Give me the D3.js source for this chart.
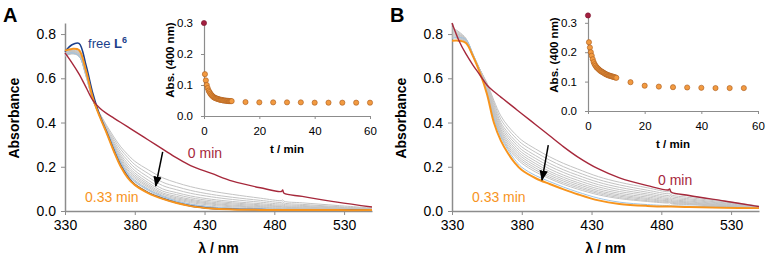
<!DOCTYPE html>
<html>
<head>
<meta charset="utf-8">
<script src="https://cdn.jsdelivr.net/npm/d3@7"></script>
<style>
  body { margin: 0; background: #fff; }
  svg { font-family: "Liberation Sans", Arial, sans-serif; }
</style>
</head>
<body>
<div id="chart"></div>
<script>
// wavelength grid (nm) shared by all spectra
const wl = [330,335,340,345,350,355,360,365,370,375,380,390,400,410,420,435,450,470,485,486,487,500,525,550];
const xTicks = [330,380,430,480,530];
const yTicks = [0,0.2,0.4,0.6,0.8];
const insetXTicks = [0,20,40,60];
const insetYTicks = [0,0.1,0.2,0.3];

// panel A spectra
const redA    = [0.715,0.67,0.62,0.56,0.50,0.465,0.44,0.42,0.40,0.38,0.36,0.32,0.28,0.24,0.205,0.17,0.135,0.105,0.088,0.095,0.08,0.066,0.04,0.018];
const orangeA = [0.725,0.733,0.728,0.635,0.51,0.425,0.35,0.27,0.20,0.15,0.118,0.08,0.055,0.036,0.022,0.011,0.007,0.005,0.005,0.005,0.005,0.005,0.004,0.004];
const blueA   = [0.72,0.752,0.758,0.66,0.53,0.43,0.355,0.275,0.205,0.155,0.12,0.082,0.056,0.037,0.023,0.012,0.008,0.006,0.005,0.005,0.005,0.005,0.004,0.004];
const lightA  = [0.705,0.715,0.70,0.62,0.50,0.43,0.36,0.29,0.22,0.17,0.135,0.095,0.066,0.045,0.03,0.018,0.012,0.009,0.008,0.008,0.008,0.007,0.006,0.005];
const greysA = [
  [0.70,0.71,0.70,0.61,0.50,0.44,0.385,0.335,0.29,0.255,0.225,0.185,0.15,0.128,0.11,0.09,0.075,0.058,0.047,0.05,0.044,0.037,0.025,0.013],
  [0.70,0.712,0.70,0.612,0.50,0.438,0.378,0.325,0.278,0.242,0.21,0.168,0.13,0.11,0.093,0.075,0.062,0.048,0.039,0.041,0.036,0.03,0.02,0.011],
  [0.702,0.714,0.702,0.615,0.50,0.435,0.372,0.315,0.265,0.228,0.196,0.152,0.115,0.096,0.08,0.064,0.052,0.04,0.032,0.034,0.03,0.025,0.017,0.009],
  [0.704,0.716,0.704,0.618,0.501,0.432,0.366,0.306,0.254,0.215,0.183,0.138,0.10,0.083,0.068,0.053,0.043,0.033,0.027,0.029,0.025,0.021,0.014,0.008],
  [0.706,0.718,0.706,0.62,0.502,0.43,0.362,0.299,0.245,0.204,0.172,0.127,0.09,0.074,0.06,0.046,0.037,0.028,0.023,0.025,0.021,0.018,0.012,0.007],
  [0.708,0.72,0.708,0.622,0.503,0.429,0.359,0.293,0.237,0.195,0.163,0.119,0.082,0.066,0.053,0.04,0.032,0.024,0.02,0.021,0.018,0.015,0.01,0.006],
  [0.71,0.722,0.71,0.624,0.504,0.428,0.357,0.288,0.23,0.187,0.155,0.112,0.076,0.06,0.048,0.035,0.027,0.02,0.017,0.018,0.015,0.013,0.009,0.005],
  [0.712,0.724,0.712,0.626,0.505,0.427,0.355,0.284,0.224,0.18,0.148,0.106,0.07,0.055,0.043,0.031,0.023,0.017,0.014,0.015,0.013,0.011,0.008,0.005],
  [0.714,0.726,0.716,0.628,0.506,0.426,0.353,0.28,0.218,0.172,0.14,0.099,0.065,0.05,0.038,0.026,0.019,0.014,0.011,0.012,0.01,0.009,0.007,0.005],
  [0.716,0.728,0.72,0.63,0.507,0.426,0.352,0.276,0.211,0.164,0.132,0.092,0.06,0.044,0.032,0.02,0.014,0.01,0.008,0.009,0.008,0.007,0.006,0.004]
];

// panel B spectra
const redB    = [0.85,0.77,0.71,0.66,0.615,0.57,0.54,0.515,0.49,0.465,0.44,0.39,0.34,0.29,0.245,0.19,0.15,0.115,0.095,0.1,0.086,0.07,0.045,0.02];
const orangeB = [0.77,0.77,0.76,0.70,0.625,0.53,0.40,0.318,0.262,0.218,0.185,0.148,0.122,0.098,0.076,0.048,0.032,0.023,0.02,0.02,0.02,0.018,0.015,0.013];
const lightB  = [0.78,0.785,0.775,0.71,0.63,0.535,0.42,0.335,0.278,0.232,0.198,0.16,0.133,0.108,0.086,0.058,0.04,0.029,0.025,0.026,0.024,0.022,0.018,0.014];
const greysB = [
  [0.83,0.81,0.78,0.71,0.64,0.58,0.50,0.43,0.385,0.35,0.32,0.28,0.245,0.215,0.19,0.155,0.13,0.105,0.087,0.09,0.082,0.068,0.045,0.022],
  [0.825,0.805,0.778,0.708,0.64,0.575,0.49,0.415,0.37,0.335,0.305,0.265,0.23,0.2,0.175,0.142,0.118,0.094,0.078,0.08,0.073,0.061,0.041,0.022],
  [0.82,0.80,0.776,0.706,0.64,0.57,0.48,0.40,0.355,0.32,0.29,0.25,0.215,0.186,0.162,0.13,0.107,0.085,0.07,0.072,0.066,0.055,0.037,0.021],
  [0.815,0.797,0.774,0.704,0.639,0.566,0.47,0.39,0.343,0.308,0.277,0.237,0.202,0.174,0.15,0.119,0.097,0.077,0.063,0.065,0.059,0.05,0.034,0.02],
  [0.81,0.794,0.772,0.702,0.638,0.562,0.46,0.38,0.332,0.296,0.265,0.225,0.19,0.162,0.139,0.109,0.088,0.07,0.057,0.059,0.053,0.045,0.031,0.019],
  [0.805,0.79,0.77,0.70,0.637,0.558,0.452,0.37,0.321,0.285,0.254,0.214,0.179,0.152,0.129,0.1,0.08,0.063,0.052,0.054,0.048,0.041,0.028,0.018],
  [0.80,0.787,0.768,0.70,0.636,0.554,0.445,0.362,0.311,0.275,0.244,0.204,0.17,0.143,0.121,0.092,0.073,0.057,0.047,0.049,0.044,0.037,0.026,0.017],
  [0.795,0.784,0.766,0.70,0.635,0.55,0.438,0.354,0.302,0.265,0.234,0.194,0.161,0.135,0.113,0.085,0.067,0.052,0.043,0.044,0.04,0.034,0.024,0.016],
  [0.79,0.781,0.764,0.70,0.634,0.546,0.43,0.346,0.293,0.256,0.225,0.185,0.153,0.127,0.106,0.079,0.061,0.047,0.039,0.04,0.036,0.031,0.022,0.015],
  [0.785,0.778,0.762,0.70,0.632,0.542,0.422,0.34,0.285,0.247,0.216,0.176,0.146,0.12,0.099,0.073,0.056,0.043,0.036,0.037,0.033,0.029,0.02,0.015]
];

// kinetics at 400 nm (insets)
const tA = [0,0.33,0.67,1,1.33,1.67,2,2.33,2.67,3,3.33,3.67,4,4.33,4.67,5,5.33,5.67,6,6.33,6.67,7,7.33,7.67,8,8.33,8.67,9,9.33,9.67,10,15,20,25,30,35,40,45,50,55,60];
const absA = [0.30,0.135,0.115,0.10,0.09,0.082,0.077,0.072,0.068,0.065,0.062,0.06,0.058,0.057,0.056,0.055,0.054,0.053,0.052,0.052,0.051,0.05,0.05,0.05,0.049,0.049,0.049,0.048,0.048,0.048,0.048,0.045,0.044,0.044,0.044,0.044,0.043,0.043,0.043,0.043,0.043];
const tB = [0,0.33,0.67,1,1.33,1.67,2,2.33,2.67,3,3.33,3.67,4,4.33,4.67,5,5.33,5.67,6,6.33,6.67,7,7.33,7.67,8,8.33,8.67,9,9.33,9.67,10,15,20,25,30,35,40,45,50,55];
const absB = [0.325,0.234,0.216,0.20,0.188,0.176,0.166,0.159,0.154,0.149,0.146,0.143,0.14,0.137,0.135,0.133,0.131,0.129,0.127,0.125,0.124,0.122,0.121,0.12,0.119,0.118,0.117,0.116,0.115,0.114,0.113,0.098,0.086,0.083,0.081,0.08,0.079,0.078,0.078,0.078];

const arrowA = [[400,0.267],[395,0.113]];
const arrowB = [[399,0.298],[394.5,0.14]];

const col = {red: "#a6283b", orange: "#f7941d", blue: "#1b3f8b", light: "#9cc3e5", grey: "#c3c3c3", axis: "#8c8c8c"};

const svg = d3.select("#chart").append("svg")
  .attr("width", 775).attr("height", 256);

svg.append("defs").append("marker")
  .attr("id", "arr").attr("viewBox", "0 0 10 10")
  .attr("refX", 9).attr("refY", 5)
  .attr("markerWidth", 7).attr("markerHeight", 7)
  .attr("orient", "auto-start-reverse")
  .append("path").attr("d", "M0,1 L10,5 L0,9 z").attr("fill", "#000");

function styleAxis(g, fs) {
  g.select(".domain").attr("stroke", col.axis).attr("stroke-width", 1.5);
  g.selectAll(".tick line").attr("stroke", col.axis).attr("stroke-width", 1);
  g.selectAll(".tick text").attr("fill", "#000").style("font-size", fs + "px");
}

function drawPanel(o) {
  const x = d3.scaleLinear().domain([330, 550]).range([o.left, o.left + 307]);
  const y = d3.scaleLinear().domain([0, 0.85]).range([211, 23]);

  const gx = svg.append("g").attr("transform", "translate(0,211)")
    .call(d3.axisBottom(x).tickValues(xTicks).tickSize(4).tickSizeOuter(0).tickPadding(5).tickFormat(d3.format("d")));
  styleAxis(gx, 14);
  const gy = svg.append("g").attr("transform", `translate(${o.left},0)`)
    .call(d3.axisLeft(y).tickValues(yTicks).tickSize(4).tickSizeOuter(0).tickPadding(5).tickFormat(d3.format(".1f")));
  styleAxis(gy, 14);

  // smooth spectra through the read-off points
  const line = d3.line().x((d, i) => x(wl[i])).y(d => y(d)).curve(d3.curveCatmullRom.alpha(0.5));
  const plot = svg.append("g");
  o.greys.forEach(g => plot.append("path").attr("d", line(g)).attr("fill", "none").attr("stroke", col.grey).attr("stroke-width", 1));
  plot.append("path").attr("d", line(o.light)).attr("fill", "none").attr("stroke", col.light).attr("stroke-width", 1);
  if (o.blue) plot.append("path").attr("d", line(o.blue)).attr("fill", "none").attr("stroke", col.blue).attr("stroke-width", 1.6);
  plot.append("path").attr("d", line(o.orange)).attr("fill", "none").attr("stroke", col.orange).attr("stroke-width", 2);
  plot.append("path").attr("d", line(o.red)).attr("fill", "none").attr("stroke", col.red).attr("stroke-width", 1.4);

  svg.append("line")
    .attr("x1", x(o.arrow[0][0])).attr("y1", y(o.arrow[0][1]))
    .attr("x2", x(o.arrow[1][0])).attr("y2", y(o.arrow[1][1]))
    .attr("stroke", "#000").attr("stroke-width", 1.5).attr("marker-end", "url(#arr)");

  svg.append("text").attr("x", x((330 + 550) / 2)).attr("y", 253).attr("text-anchor", "middle")
    .style("font-size", "14px").style("font-weight", "bold").text("λ / nm");
  svg.append("text").attr("transform", `translate(${o.left - 46},${y(0.42)}) rotate(-90)`)
    .attr("text-anchor", "middle").style("font-size", "14px").style("font-weight", "bold").text("Absorbance");
  svg.append("text").attr("x", o.left - 62).attr("y", 22).style("font-size", "20px").style("font-weight", "bold").text(o.letter);

  svg.append("text").attr("x", x(o.zeroPos[0])).attr("y", y(o.zeroPos[1]))
    .attr("fill", col.red).style("font-size", "14px").text("0 min");
  svg.append("text").attr("x", x(344.3)).attr("y", y(0.041))
    .attr("fill", col.orange).style("font-size", "14px").text("0.33 min");
  if (o.blue) {
    const t = svg.append("text").attr("x", x(346.5)).attr("y", y(0.737)).attr("fill", col.blue).style("font-size", "13px");
    t.append("tspan").text("free ");
    t.append("tspan").style("font-weight", "bold").text("L");
    t.append("tspan").style("font-weight", "bold").style("font-size", "9px").attr("dy", -5).text("6");
  }
}

function drawInset(o) {
  const x = d3.scaleLinear().domain([0, 60]).range([o.left, o.right]);
  const y = d3.scaleLinear().domain([0, o.ymax]).range([o.bottom, o.top]);
  const gx = svg.append("g").attr("transform", `translate(0,${o.bottom})`)
    .call(d3.axisBottom(x).tickValues(insetXTicks).tickSize(3).tickSizeOuter(0).tickPadding(8).tickFormat(d3.format("d")));
  styleAxis(gx, 11.5);
  gx.select(".domain").attr("stroke-width", 1.2);
  const gy = svg.append("g").attr("transform", `translate(${o.left},0)`)
    .call(d3.axisLeft(y).tickValues(insetYTicks).tickSize(3).tickSizeOuter(0).tickPadding(8).tickFormat(d3.format(".1f")));
  styleAxis(gy, 11.5);
  gy.select(".domain").attr("stroke-width", 1.2);

  svg.append("g").selectAll("circle").data(o.t).join("circle")
    .attr("cx", d => x(d)).attr("cy", (d, i) => y(o.v[i])).attr("r", 2.6)
    .attr("fill", (d, i) => i === 0 ? "#a3203f" : "#f29a40")
    .attr("stroke", (d, i) => i === 0 ? "#7a1530" : "#a85a1e").attr("stroke-width", 0.6);

  svg.append("text").attr("x", (o.left + o.right) / 2).attr("y", o.bottom + 37).attr("text-anchor", "middle")
    .style("font-size", "11.5px").style("font-weight", "bold").text("t / min");
  svg.append("text").attr("transform", `translate(${o.left - 30},${o.labelY}) rotate(-90)`)
    .attr("text-anchor", "middle").style("font-size", "11.5px").style("font-weight", "bold").text("Abs. (400 nm)");
}

drawPanel({left: 65, letter: "A", greys: greysA, light: lightA, blue: blueA, orange: orangeA, red: redA, arrow: arrowA, zeroPos: [418, 0.24]});
drawPanel({left: 452, letter: "B", greys: greysB, light: lightB, blue: null, orange: orangeB, red: redB, arrow: arrowB, zeroPos: [477.6, 0.118]});
drawInset({left: 204, right: 370, top: 23, bottom: 116, ymax: 0.3, t: tA, v: absA, labelY: 60});
drawInset({left: 588, right: 758, top: 14, bottom: 111, ymax: 0.33, t: tB, v: absB, labelY: 55});
</script>
</body>
</html>
